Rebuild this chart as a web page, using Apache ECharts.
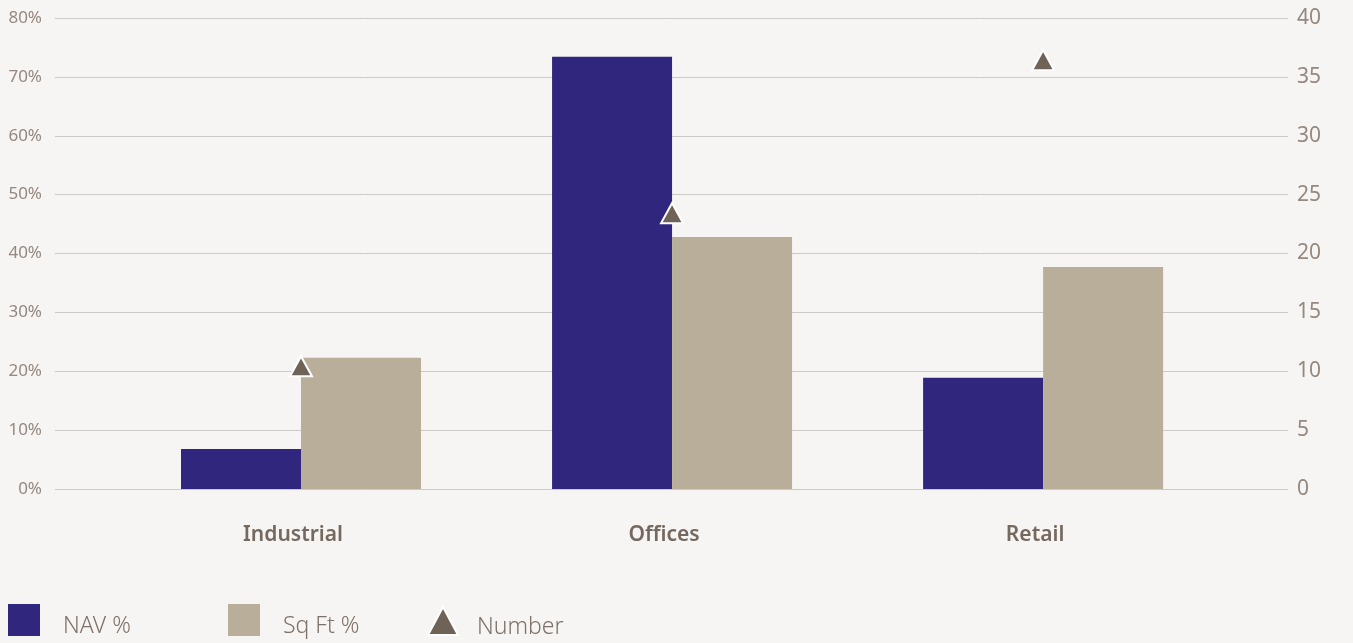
<!DOCTYPE html>
<html>
<head>
<meta charset="utf-8">
<script src="https://cdn.jsdelivr.net/npm/echarts@6/dist/echarts.min.js"></script>
<style>
  html, body { margin: 0; padding: 0; background: #f6f5f3; }
  #main { width: 1353px; height: 643px; }
</style>
</head>
<body>
<div id="main"></div>
<script>
// categories and values
var categories = ['Industrial', 'Offices', 'Retail'];
var navPct = [6.8, 73.4, 18.9];
var sqftPct = [22.3, 42.8, 37.7];
var number = [10, 23, 36];

var chart = echarts.init(document.getElementById('main'));

// x positions are category indices on a value axis
function pairs(arr) {
  return arr.map(function (v, i) { return [i, v]; });
}

function legendText(leftPad) {
  return {
    color: '#7d7169',
    fontSize: 23,
    fontFamily: 'Source Sans Pro, Noto Sans, sans-serif',
    fontWeight: 300,
    padding: [0, 0, 0, leftPad],
    rich: {
      t: {
        color: '#7d7169',
        fontSize: 23,
        fontFamily: 'Source Sans Pro, Noto Sans, sans-serif',
        fontWeight: 300,
        padding: [12, 0, 0, 0]
      }
    }
  };
}

var option = {
  backgroundColor: '#f6f5f3',
  animation: false,
  grid: {
    left: 55,
    right: 65,
    top: 18,
    bottom: 154
  },
  legend: [{
    left: 3, top: 599,
    itemWidth: 32, itemHeight: 32,
    icon: 'rect',
    data: ['NAV %'],
    formatter: '{t|{name}}',
    textStyle: legendText(18)
  }, {
    left: 223, top: 599,
    itemWidth: 32, itemHeight: 32,
    icon: 'rect',
    data: ['Sq Ft %'],
    formatter: '{t|{name}}',
    textStyle: legendText(18)
  }, {
    left: 422, top: 601,
    itemWidth: 30, itemHeight: 28,
    data: [{ name: 'Number', icon: 'triangle' }],
    formatter: '{t|{name}}',
    textStyle: legendText(14)
  }],
  xAxis: {
    type: 'value',
    min: -0.663,
    max: 2.66,
    axisLine: { show: false },
    axisTick: { show: false },
    splitLine: { show: false },
    axisLabel: {
      customValues: [0, 1, 2],
      formatter: function (v) { return categories[Math.round(v)]; },
      color: '#75685f',
      fontSize: 21,
      fontWeight: 600,
      fontFamily: 'Source Sans Pro, Noto Sans, sans-serif',
      margin: 36,
      padding: [0, 16, 0, 0]
    }
  },
  yAxis: [{
    type: 'value',
    min: 0,
    max: 80,
    interval: 10,
    axisLine: { show: false },
    axisTick: { show: false },
    axisLabel: {
      formatter: '{value}%',
      color: '#948880',
      fontSize: 17,
      fontFamily: 'Source Sans Pro, Noto Sans, sans-serif',
      margin: 13
    },
    splitLine: { lineStyle: { color: '#cdc9c6', width: 1 } }
  }, {
    type: 'value',
    min: 0,
    max: 40,
    interval: 5,
    axisLine: { show: false },
    axisTick: { show: false },
    axisLabel: {
      color: '#948880',
      fontSize: 21,
      fontFamily: 'Source Sans Pro, Noto Sans, sans-serif',
      margin: 9
    },
    splitLine: { show: false }
  }],
  series: [{
    name: 'NAV %',
    type: 'bar',
    data: pairs(navPct),
    barWidth: 120,
    barGap: '0%',
    itemStyle: { color: '#31267e' }
  }, {
    name: 'Sq Ft %',
    type: 'bar',
    data: pairs(sqftPct),
    barWidth: 120,
    barGap: '0%',
    itemStyle: { color: '#b8ae9a' }
  }, {
    name: 'Number',
    type: 'scatter',
    yAxisIndex: 1,
    data: pairs(number),
    symbol: 'triangle',
    symbolSize: [22, 20],
    symbolOffset: [0, -5],
    z: 5,
    itemStyle: {
      color: '#6f6257',
      opacity: 1,
      borderColor: '#ffffff',
      borderWidth: 2
    }
  }]
};

chart.setOption(option);
</script>
</body>
</html>
